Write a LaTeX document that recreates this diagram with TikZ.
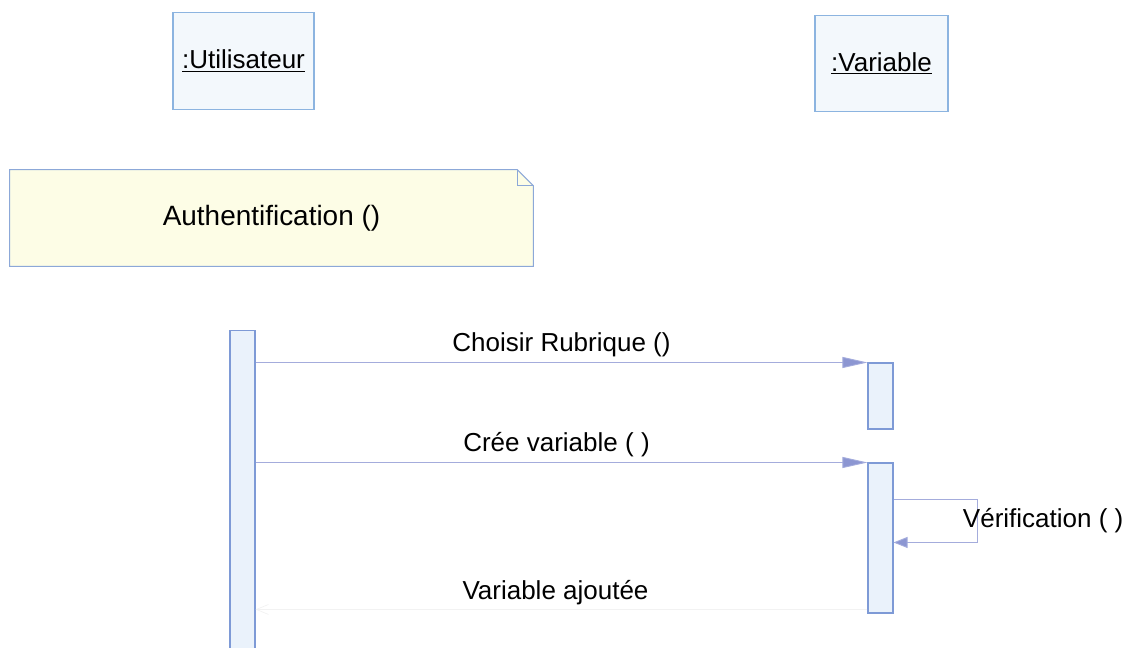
\documentclass[tikz,border=0pt]{standalone}
\usepackage{fontspec}
\setmainfont{Liberation Sans}
\usetikzlibrary{arrows.meta, positioning, calc, backgrounds}

\definecolor{boxline}{HTML}{8CB4E0}
\definecolor{boxfill}{HTML}{F3F8FC}
\definecolor{notefill}{HTML}{FDFDE6}
\definecolor{noteline}{HTML}{8CA8D8}
\definecolor{msgline}{HTML}{A4ACDC}
\definecolor{tipfill}{HTML}{8C96D2}
\definecolor{actline}{HTML}{7E9AD6}
\definecolor{actfill}{HTML}{EAF2FB}
\newcommand{\lblfont}{\fontsize{14.8pt}{17pt}\selectfont}
\newcommand{\notefont}{\fontsize{15.9pt}{18pt}\selectfont}

\begin{document}
\begin{tikzpicture}[
        x=0.02cm, y=-0.02cm,
        objbox/.style={rectangle, draw=boxline, line width=0.6pt, fill=boxfill, minimum height=1.93cm, align=center, font=\lblfont},
        notetext/.style={rectangle, minimum width=10.46cm, minimum height=1.92cm, align=center, font=\notefont},
        notebox/.style={draw=noteline, line width=0.6pt, fill=notefill},
        activation/.style={rectangle, draw=actline, line width=0.6pt, fill=actfill, minimum width=0.5cm, inner sep=0pt},
        msg/.style={draw=msgline, line width=0.5pt, -{Triangle[length=0.5cm, width=0.22cm, fill=tipfill]}},
        selfmsg/.style={draw=msgline, line width=0.5pt, -{Triangle[length=0.28cm, width=0.22cm, fill=tipfill]}},
        retmsg/.style={draw=gray!10, line width=0.4pt, -{Straight Barb[length=0.24cm, width=0.2cm]}},
        msglabel/.style={midway, above, inner sep=3pt, font=\lblfont}
    ]
        \useasboundingbox (0,0) rectangle (1132,648);

        % Objects (top)
        \node[objbox, minimum width=2.82cm] (utilisateur) at (243.5,61) {\underline{:Utilisateur}};
        \node[objbox, minimum width=2.66cm] (variable) at (881.5,63.5) {\underline{:Variable}};

        % Note
        \node[notetext] (auth) at (271.5,218) {Authentification ()};
        \begin{scope}[on background layer]
            \draw[notebox] (auth.north west) -- ([xshift=-0.32cm]auth.north east) -- ([yshift=-0.32cm]auth.north east) -- (auth.south east) -- (auth.south west) -- cycle;
            \draw[notebox, fill=none] ([xshift=-0.32cm]auth.north east) |- ([yshift=-0.32cm]auth.north east);
        \end{scope}

        % Activations
        \node[activation, minimum height=6.4cm] (actuser) at (242.5,490) {};
        \node[activation, minimum height=1.32cm] (actrub) at (880.5,396) {};
        \node[activation, minimum height=3cm] (actvar) at (880.5,538) {};

        % Messages
        \draw[msg] (actrub.north west -| actuser.east) -- (actrub.north west) node[msglabel] {Choisir Rubrique ()};
        \draw[msg] (actvar.north west -| actuser.east) -- (actvar.north west) node[msglabel, xshift=-0.1cm] {Crée variable ( )};
        \draw[selfmsg] ([yshift=-0.74cm]actvar.north east) -- ++(84,0) |- ([yshift=-1.6cm]actvar.north east) node[pos=0.25, anchor=west, inner sep=0pt, xshift=-0.3cm, font=\lblfont] {Vérification ( )};
        \draw[retmsg] ([yshift=-2.94cm]actvar.north west) -- ([yshift=-2.94cm]actvar.north west -| actuser.east) node[msglabel, xshift=-0.12cm, yshift=-0.02cm] {Variable ajoutée};

    \end{tikzpicture}
\end{document}
